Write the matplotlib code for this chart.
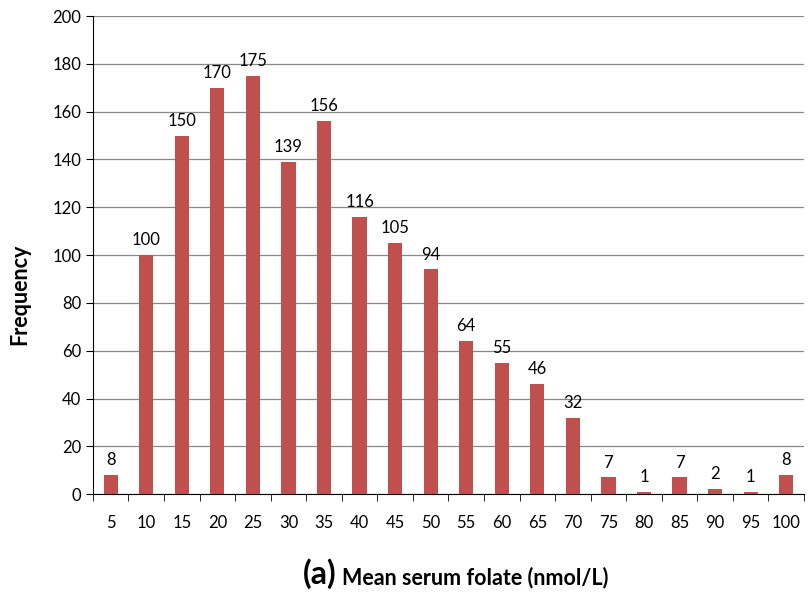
import matplotlib
matplotlib.use("Agg")
import matplotlib.pyplot as plt

# Folate bins and counts
bins = [5, 10, 15, 20, 25, 30, 35, 40, 45, 50, 55, 60, 65, 70, 75, 80, 85, 90, 95, 100]
counts = [8, 100, 150, 170, 175, 139, 156, 116, 105, 94, 64, 55, 46, 32, 7, 1, 7, 2, 1, 8]

plt.rcParams['font.family'] = ['Lato', 'DejaVu Sans']

fig = plt.figure(figsize=(8.08, 5.94), dpi=100)
ax = fig.add_axes([0.115, 0.168, 0.88, 0.805])

x = list(range(len(bins)))
ax.bar(x, counts, width=0.4, color='#C0504D', zorder=3)

# value labels above each bar
for xi, c in zip(x, counts):
    ax.annotate(str(c), (xi, c), xytext=(0, 5), textcoords='offset points',
                ha='center', va='bottom', fontsize=12)

ax.set_xlim(-0.5, len(bins) - 0.5)
ax.set_ylim(0, 200)
ax.set_yticks(range(0, 201, 20))
ax.set_xticks(x)
ax.set_xticklabels([str(b) for b in bins])
ax.set_xticks([i - 0.5 for i in range(len(bins) + 1)], minor=True)
ax.tick_params(axis='x', which='major', length=0, pad=15, labelsize=12)
ax.tick_params(axis='x', which='minor', length=5, direction='out', color='black')
ax.tick_params(axis='y', length=5, direction='out', labelsize=12)

ax.grid(axis='y', color='#888888', linewidth=0.9, zorder=0)
ax.spines['top'].set_visible(False)
ax.spines['right'].set_visible(False)

ax.set_ylabel('Frequency', fontsize=15.5, fontweight='bold')
ax.yaxis.set_label_coords(-0.088, 0.418)

# x label with a larger "(a)" prefix
fig.text(336 / 808, 1 - 584 / 594, '(a)', fontsize=23, fontweight='bold',
         ha='right', va='baseline')
fig.text(342 / 808, 1 - 584 / 594, 'Mean serum folate (nmol/L)', fontsize=15.5,
         fontweight='bold', ha='left', va='baseline')

fig.savefig('out.png', dpi=100)
